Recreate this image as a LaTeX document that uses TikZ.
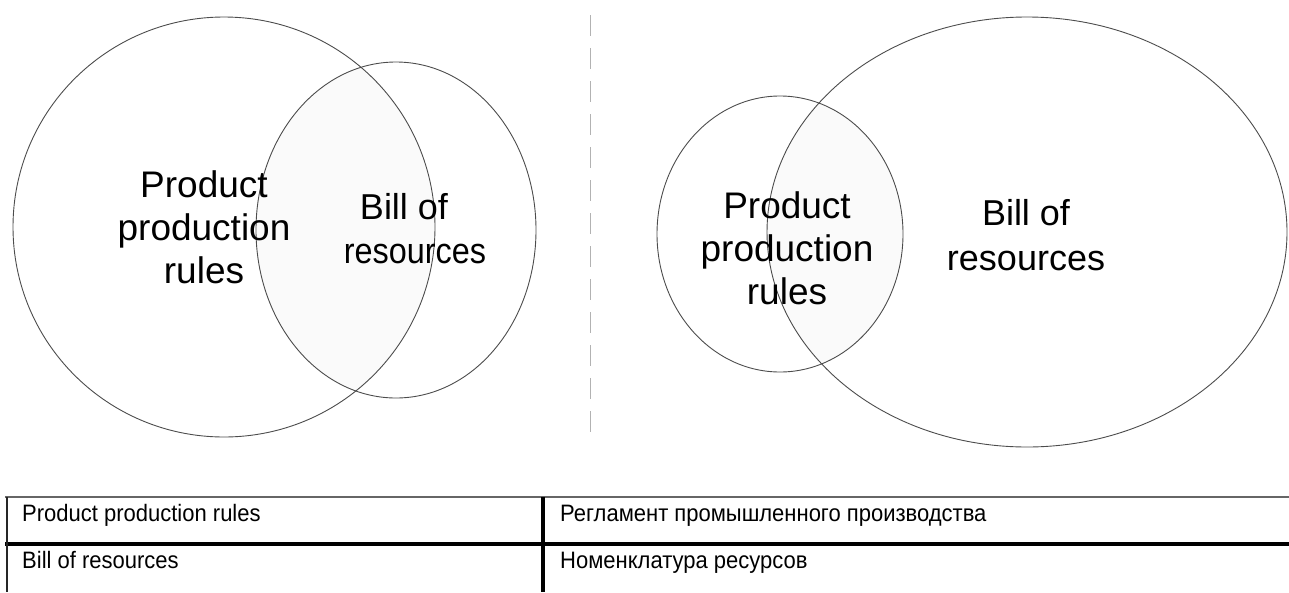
\documentclass[tikz,border=0pt]{standalone}
\usepackage{fontspec}
\setmainfont{Liberation Sans}
\begin{document}
\begin{tikzpicture}[x=1pt,y=-1pt,
  setline/.style={draw=black!70,line width=0.9pt},
  big/.style={font=\fontsize{37}{43}\selectfont,anchor=base,inner sep=0pt},
  mid/.style={font=\fontsize{36}{44}\selectfont,anchor=base,inner sep=0pt},
  cell/.style={font=\fontsize{22}{26}\selectfont,anchor=base west,inner sep=0pt,yscale=1.08},
  tline/.style={line width=3.2pt,black},
  tlight/.style={line width=2pt,black!60}]
\useasboundingbox (0,0) rectangle (1289,592);
% intersections (very faint fill)
\begin{scope}
  \clip (224,227) ellipse [x radius=211,y radius=210];
  \fill[black!2] (396,230) ellipse [x radius=140,y radius=168];
\end{scope}
\begin{scope}
  \clip (780,234) ellipse [x radius=123,y radius=138];
  \fill[black!2] (1027,232) ellipse [x radius=260,y radius=215];
\end{scope}
% left diagram
\draw[setline] (224,227) ellipse [x radius=211,y radius=210];
\draw[setline] (396,230) ellipse [x radius=140,y radius=168];
\node[big] (lp1) at (204,197) {Product};
\node[big] (lp2) at (204,240) {production};
\node[big] (lp3) at (204,283) {rules};
\node[mid] (lb1) at (404,219) {Bill of};
\node[mid,xscale=0.9] (lb2) at (415,263) {resources};
% separator
\draw[black!30,line width=1pt,dash pattern=on 21pt off 12pt] (590,15) -- (590,442);
% right diagram
\draw[setline] (780,234) ellipse [x radius=123,y radius=138];
\draw[setline] (1027,232) ellipse [x radius=260,y radius=215];
\node[big] (rp1) at (787,218) {Product};
\node[big] (rp2) at (787,261) {production};
\node[big] (rp3) at (787,304) {rules};
\node[mid] (rb1) at (1026,225) {Bill of};
\node[mid] (rb2) at (1026,270) {resources};
% table
\draw[tlight] (5,497) -- (1289,497);
\draw[tline] (5,544) -- (1289,544);
\draw[line width=2pt,black!85] (7,497) -- (7,592);
\draw[tline] (543,497) -- (543,592);
\node[cell] (c11) at (22,521) {Product production rules};
\node[cell] (c12) at (560,521) {Регламент промышленного производства};
\node[cell] (c21) at (22,568) {Bill of resources};
\node[cell] (c22) at (560,568) {Номенклатура ресурсов};
\end{tikzpicture}
\end{document}
